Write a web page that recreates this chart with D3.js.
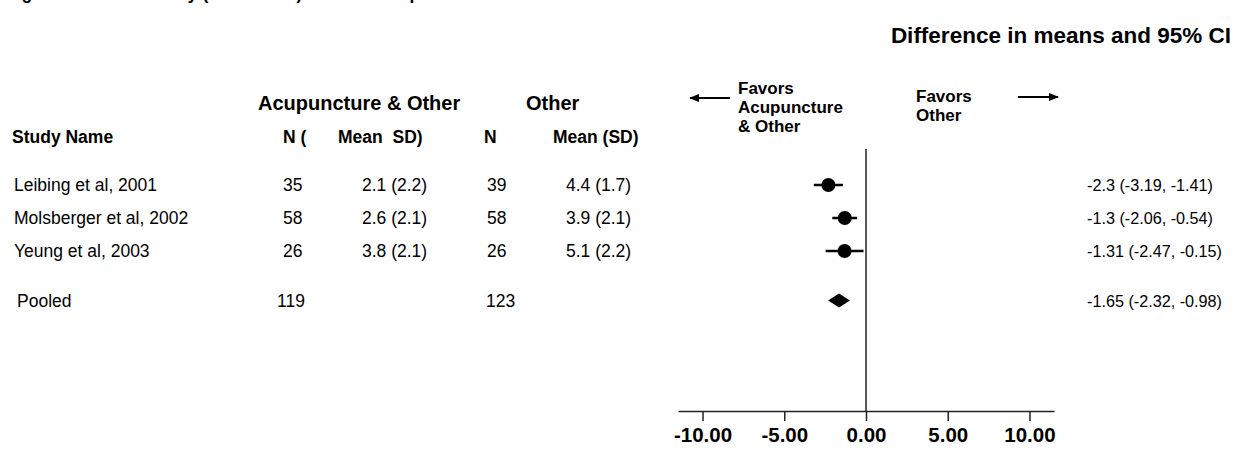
<!DOCTYPE html>
<html>
<head>
<meta charset="utf-8">
<script src="https://cdn.jsdelivr.net/npm/d3@7/dist/d3.min.js"></script>
<style>
  html, body { margin: 0; padding: 0; background: #fff; }
  svg { display: block; }
  .sans { font-family: "Liberation Sans", Arial, Helvetica, sans-serif; }
</style>
</head>
<body>
<svg id="chart" width="1244" height="451"></svg>
<script>
// Study-level data
const studies    = ["Leibing et al, 2001", "Molsberger et al, 2002", "Yeung et al, 2003"];
const nAcu       = [35, 58, 26];
const meanAcu    = [2.1, 2.6, 3.8];
const sdAcu      = [2.2, 2.1, 2.1];
const nOther     = [39, 58, 26];
const meanOther  = [4.4, 3.9, 5.1];
const sdOther    = [1.7, 2.1, 2.2];
const diffMean   = [-2.3, -1.3, -1.31];
const ciLow      = [-3.19, -2.06, -2.47];
const ciHigh     = [-1.41, -0.54, -0.15];

// Pooled estimate
const pooledLabel = "Pooled";
const pooledN     = [119, 123];
const pooledDiff  = -1.65;
const pooledLow   = -2.32;
const pooledHigh  = -0.98;

// Axis
const tickValues = [-10, -5, 0, 5, 10];

const svg = d3.select("#chart").attr("class", "sans");

// Hyphen-minus for negative tick labels
const fmt = d3.formatLocale({ decimal: ".", thousands: ",", grouping: [3], currency: ["", ""], minus: "-" }).format(".2f");

// Horizontal scale of the forest plot
const x = d3.scaleLinear().domain([-11.5, 11.5]).range([678, 1054]);
// Row positions (pooled row sits one and a half rows below the last study)
const y = d3.scaleLinear().domain([0, 1]).range([185, 218]);
const pooledRow = 3.5;
const axisY = 411;

// Title (runs off the top edge; only its descenders show)
svg.append("text")
  .attr("x", 6).attr("y", -0.6)
  .attr("font-size", 17.5).attr("font-weight", "bold")
  .text("Figure 4. Pain Intensity (VAS Score) Overall: Acupuncture & Other vs. Other");

svg.append("text")
  .attr("x", 1231).attr("y", 43)
  .attr("text-anchor", "end")
  .attr("font-size", 22.5).attr("font-weight", "bold")
  .text("Difference in means and 95% CI");

// Table headers
const grp = svg.append("g").attr("font-weight", "bold").attr("font-size", 20);
grp.append("text").attr("x", 258).attr("y", 110).text("Acupuncture & Other");
grp.append("text").attr("x", 526).attr("y", 110).text("Other");

const hdr = svg.append("g").attr("font-weight", "bold").attr("font-size", 17.5);
hdr.append("text").attr("x", 12).attr("y", 143).text("Study Name");
hdr.append("text").attr("x", 283).attr("y", 143).text("N (");
hdr.append("text").attr("x", 338).attr("y", 143).attr("xml:space", "preserve").text("Mean  SD)");
hdr.append("text").attr("x", 484).attr("y", 143).text("N");
hdr.append("text").attr("x", 553).attr("y", 143).text("Mean (SD)");

// Study rows
const rows = svg.append("g").attr("font-size", 17.5);
studies.forEach((s, i) => {
  const yy = y(i) + 6;
  rows.append("text").attr("x", 14).attr("y", yy).text(s);
  rows.append("text").attr("x", 283).attr("y", yy).text(nAcu[i]);
  rows.append("text").attr("x", 362).attr("y", yy).text(`${meanAcu[i]} (${sdAcu[i]})`);
  rows.append("text").attr("x", 487).attr("y", yy).text(nOther[i]);
  rows.append("text").attr("x", 566).attr("y", yy).text(`${meanOther[i]} (${sdOther[i]})`);
});
const py = y(pooledRow) + 6;
rows.append("text").attr("x", 17).attr("y", py).text(pooledLabel);
rows.append("text").attr("x", 277).attr("y", py).text(pooledN[0]);
rows.append("text").attr("x", 486).attr("y", py).text(pooledN[1]);

// Effect labels on the right
const eff = svg.append("g").attr("font-size", 16.2);
studies.forEach((s, i) => {
  eff.append("text").attr("x", 1087).attr("y", y(i) + 6)
    .text(`${diffMean[i]} (${ciLow[i]}, ${ciHigh[i]})`);
});
eff.append("text").attr("x", 1087).attr("y", y(pooledRow) + 6)
  .text(`${pooledDiff} (${pooledLow}, ${pooledHigh})`);

// Direction labels
const fav = svg.append("g").attr("font-size", 17).attr("font-weight", "bold");
const favL = fav.append("text").attr("x", 738).attr("y", 94);
["Favors", "Acupuncture", "& Other"].forEach((t, k) =>
  favL.append("tspan").attr("x", 738).attr("dy", k ? 19 : 0).text(t));
const favR = fav.append("text").attr("x", 916).attr("y", 102);
["Favors", "Other"].forEach((t, k) =>
  favR.append("tspan").attr("x", 916).attr("dy", k ? 19 : 0).text(t));

// Arrows
const defs = svg.append("defs");
defs.append("marker").attr("id", "ah").attr("viewBox", "0 0 10 10")
  .attr("refX", 9).attr("refY", 5).attr("markerWidth", 10).attr("markerHeight", 10)
  .attr("markerUnits", "userSpaceOnUse").attr("orient", "auto")
  .append("path").attr("d", "M0,1 L10,5 L0,9 Z").attr("fill", "#000");
svg.append("line").attr("x1", 730).attr("x2", 690).attr("y1", 98).attr("y2", 98)
  .attr("stroke", "#000").attr("stroke-width", 2).attr("marker-end", "url(#ah)");
svg.append("line").attr("x1", 1018).attr("x2", 1058).attr("y1", 97).attr("y2", 97)
  .attr("stroke", "#000").attr("stroke-width", 2).attr("marker-end", "url(#ah)");

// Zero line
svg.append("line").attr("x1", x(0)).attr("x2", x(0)).attr("y1", 149).attr("y2", axisY)
  .attr("stroke", "#222").attr("stroke-width", 1.5);

// Axis
const axis = d3.axisBottom(x).tickValues(tickValues).tickFormat(fmt)
  .tickSizeInner(10).tickSizeOuter(0).tickPadding(6);
const ax = svg.append("g").attr("transform", `translate(0,${axisY})`).call(axis);
ax.attr("font-family", null).attr("font-size", null);
ax.select(".domain").attr("stroke", "#222").attr("stroke-width", 1.5);
ax.selectAll(".tick line").attr("stroke", "#222").attr("stroke-width", 1.5);
ax.selectAll(".tick text").attr("font-size", 20.5).attr("font-weight", "bold").attr("fill", "#000");

// Confidence intervals and point estimates
const marks = svg.append("g");
studies.forEach((s, i) => {
  marks.append("line").attr("x1", x(ciLow[i])).attr("x2", x(ciHigh[i]))
    .attr("y1", y(i)).attr("y2", y(i)).attr("stroke", "#000").attr("stroke-width", 2.5);
  marks.append("circle").attr("cx", x(diffMean[i])).attr("cy", y(i)).attr("r", 7).attr("fill", "#000");
});
const pY = y(pooledRow);
marks.append("path")
  .attr("d", `M${x(pooledLow)},${pY} L${x(pooledDiff)},${pY - 7} L${x(pooledHigh)},${pY} L${x(pooledDiff)},${pY + 7} Z`)
  .attr("fill", "#000");
</script>
</body>
</html>
